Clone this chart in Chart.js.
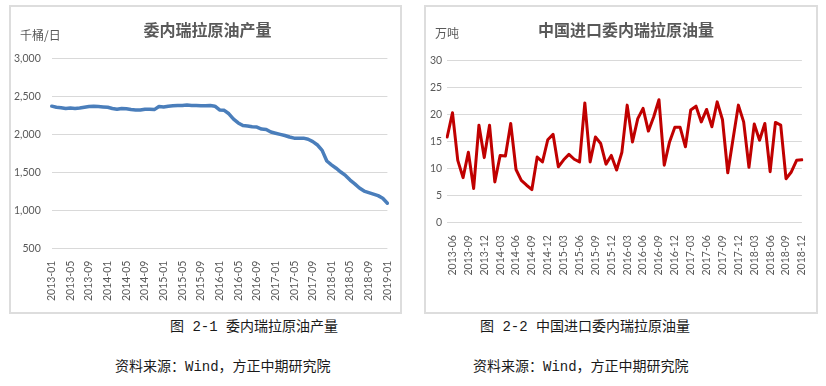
<!DOCTYPE html>
<html>
<head>
<meta charset="utf-8">
<script src="https://cdn.jsdelivr.net/npm/chart.js"></script>
<style>
  html, body { margin: 0; padding: 0; background: #fff; }
  body { width: 826px; height: 386px; position: relative; overflow: hidden; font-family: "Noto Sans CJK SC", sans-serif; }
  .box { position: absolute; border: 2px solid #dddddd; box-sizing: border-box; background: #fff; }
  .box canvas { position: absolute; top: 0; }
  .unit { position: absolute; font-size: 12px; line-height: 1; color: #595959; white-space: nowrap; }
  .cap { position: absolute; font-family: "Liberation Mono", "Noto Sans CJK SC", monospace; font-size: 14px; line-height: 1; color: #1a1a1a; white-space: nowrap; }
</style>
</head>
<body>
<div class="box" style="left:9px;top:5px;width:393px;height:309px;">
  <canvas id="prodChart" width="409" height="310" style="left:-8px;"></canvas>
  <div class="unit" style="left:9px;top:22px;">千桶/日</div>
</div>
<div class="box" style="left:424px;top:5px;width:394px;height:309px;">
  <canvas id="importChart" width="402" height="305" style="left:-1px;"></canvas>
  <div class="unit" style="left:9px;top:20px;">万吨</div>
</div>
<div class="cap" style="left:170px;top:320px;">图 2-1 委内瑞拉原油产量</div>
<div class="cap" style="left:115px;top:360px;">资料来源：Wind，方正中期研究院</div>
<div class="cap" style="left:480px;top:320px;">图 2-2 中国进口委内瑞拉原油量</div>
<div class="cap" style="left:473px;top:360px;">资料来源：Wind，方正中期研究院</div>

<script>
// 委内瑞拉原油产量 (千桶/日), 2013-01 .. 2019-01
const prodMonths = [
  '2013-01','2013-02','2013-03','2013-04','2013-05','2013-06','2013-07','2013-08','2013-09','2013-10','2013-11','2013-12',
  '2014-01','2014-02','2014-03','2014-04','2014-05','2014-06','2014-07','2014-08','2014-09','2014-10','2014-11','2014-12',
  '2015-01','2015-02','2015-03','2015-04','2015-05','2015-06','2015-07','2015-08','2015-09','2015-10','2015-11','2015-12',
  '2016-01','2016-02','2016-03','2016-04','2016-05','2016-06','2016-07','2016-08','2016-09','2016-10','2016-11','2016-12',
  '2017-01','2017-02','2017-03','2017-04','2017-05','2017-06','2017-07','2017-08','2017-09','2017-10','2017-11','2017-12',
  '2018-01','2018-02','2018-03','2018-04','2018-05','2018-06','2018-07','2018-08','2018-09','2018-10','2018-11','2018-12',
  '2019-01'
];
const prodValues = [
  2370, 2355, 2350, 2340, 2345, 2340, 2345, 2355, 2365, 2370, 2365, 2360,
  2355, 2340, 2330, 2340, 2335, 2325, 2320, 2320, 2330, 2330, 2325, 2365,
  2360, 2370, 2375, 2380, 2380, 2385, 2380, 2380, 2375, 2375, 2380, 2370,
  2320, 2315, 2270, 2200, 2150, 2115, 2110, 2100, 2095, 2070, 2065, 2030,
  2015, 2000, 1985, 1965, 1950, 1950, 1950, 1935, 1905, 1860, 1790, 1650,
  1600, 1555, 1505, 1460, 1400, 1350, 1295, 1255, 1235, 1215, 1195, 1160,
  1095
];

// 中国进口委内瑞拉原油量 (万吨), 2013-05 .. 2018-12
const importMonths = [
  '2013-05','2013-06','2013-07','2013-08','2013-09','2013-10','2013-11','2013-12',
  '2014-01','2014-02','2014-03','2014-04','2014-05','2014-06','2014-07','2014-08','2014-09','2014-10','2014-11','2014-12',
  '2015-01','2015-02','2015-03','2015-04','2015-05','2015-06','2015-07','2015-08','2015-09','2015-10','2015-11','2015-12',
  '2016-01','2016-02','2016-03','2016-04','2016-05','2016-06','2016-07','2016-08','2016-09','2016-10','2016-11','2016-12',
  '2017-01','2017-02','2017-03','2017-04','2017-05','2017-06','2017-07','2017-08','2017-09','2017-10','2017-11','2017-12',
  '2018-01','2018-02','2018-03','2018-04','2018-05','2018-06','2018-07','2018-08','2018-09','2018-10','2018-11','2018-12'
];
const importValues = [
  15.8, 20.3, 11.5, 8.3, 13.0, 6.3, 18.0, 12.0,
  18.0, 7.5, 12.4, 12.3, 18.3, 9.8, 7.8, 6.9, 6.1, 12.1, 11.2, 15.3,
  16.3, 10.3, 11.6, 12.6, 11.7, 11.2, 22.1, 11.2, 15.8, 14.6, 10.8, 12.4,
  9.7, 13.0, 21.7, 14.9, 19.2, 21.1, 16.9, 19.5, 22.7, 10.6, 14.9, 17.6,
  17.6, 14.0, 20.8, 21.5, 18.6, 20.9, 17.7, 22.3, 19.0, 9.2, 15.5, 21.7,
  18.6, 10.2, 18.2, 15.2, 18.3, 9.4, 18.5, 18.0, 8.1, 9.35, 11.5, 11.6
];

const tickFont = { family: 'Lato, "Liberation Sans", sans-serif', size: 10.5 };
const tickColor = '#595959';
const gridColor = '#d9d9d9';
const titleFont = { family: '"Noto Sans CJK SC", sans-serif', size: 16, weight: 'bold' };

new Chart(document.getElementById('prodChart'), {
  type: 'line',
  data: {
    labels: prodMonths,
    datasets: [{
      data: prodValues,
      borderColor: '#4a7ebb',
      borderWidth: 3.5,
      pointRadius: 0,
      tension: 0,
      borderJoinStyle: 'round',
      borderCapStyle: 'round'
    }]
  },
  options: {
    responsive: false,
    animation: false,
    layout: { padding: { left: 0, right: 0, top: 0, bottom: 4 } },
    plugins: {
      legend: { display: false },
      tooltip: { enabled: false },
      title: {
        display: true,
        text: '委内瑞拉原油产量',
        color: '#595959',
        font: titleFont,
        padding: { top: 13, bottom: 19 }
      }
    },
    scales: {
      x: {
        grid: { display: false, drawTicks: false },
        border: { display: false },
        ticks: {
          autoSkip: false, minRotation: 90, maxRotation: 90, padding: 12,
          color: tickColor, font: tickFont,
          callback: (v, i) => (i % 4 === 0 ? prodMonths[i] : '')
        }
      },
      y: {
        min: 500, max: 3000,
        grid: { color: gridColor, drawTicks: false },
        border: { display: false },
        ticks: {
          stepSize: 500, padding: 11, color: tickColor, font: tickFont,
          callback: v => v.toLocaleString('en-US')
        }
      }
    }
  }
});

new Chart(document.getElementById('importChart'), {
  type: 'line',
  data: {
    labels: importMonths,
    datasets: [{
      data: importValues,
      borderColor: '#c00000',
      borderWidth: 3,
      pointRadius: 0,
      tension: 0,
      borderJoinStyle: 'round',
      borderCapStyle: 'round'
    }]
  },
  options: {
    responsive: false,
    animation: false,
    layout: { padding: { left: 0, right: 0, top: 0, bottom: 24 } },
    plugins: {
      legend: { display: false },
      tooltip: { enabled: false },
      title: {
        display: true,
        text: '中国进口委内瑞拉原油量',
        color: '#595959',
        font: titleFont,
        padding: { top: 13, bottom: 21 }
      }
    },
    scales: {
      x: {
        grid: { display: false, drawTicks: false },
        border: { display: false },
        ticks: {
          autoSkip: false, minRotation: 90, maxRotation: 90, padding: 12.5,
          color: tickColor, font: tickFont,
          callback: (v, i) => (i % 3 === 1 ? importMonths[i] : '')
        }
      },
      y: {
        min: 0, max: 30,
        grid: { color: gridColor, drawTicks: false },
        border: { display: false },
        ticks: { stepSize: 5, padding: 5, color: tickColor, font: tickFont }
      }
    }
  }
});
</script>
</body>
</html>
